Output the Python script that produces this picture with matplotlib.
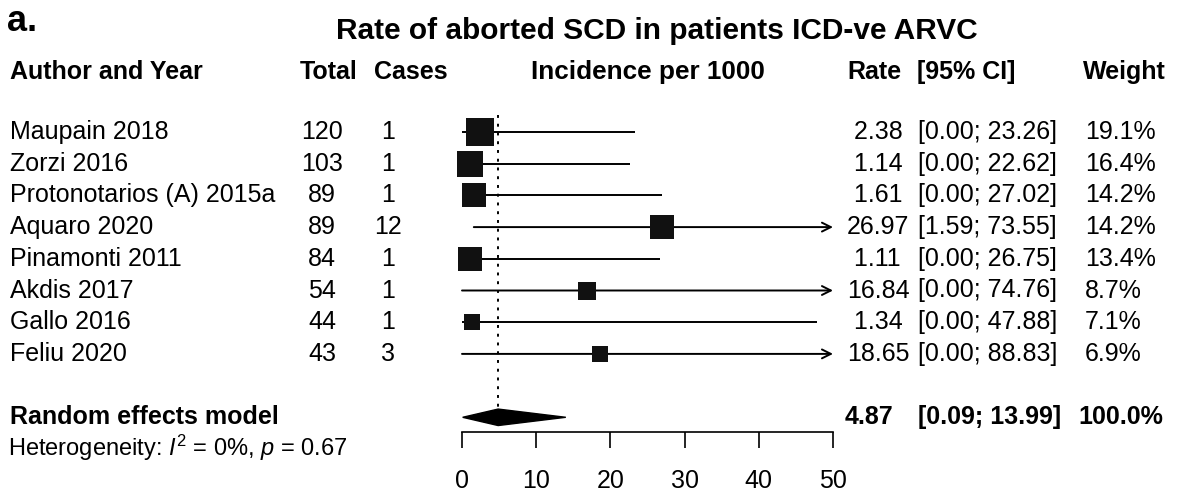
import matplotlib
matplotlib.use("Agg")
import matplotlib.pyplot as plt
import matplotlib.transforms as mtransforms
from matplotlib.patches import Polygon
import numpy as np

plt.rcParams['font.family'] = ['Liberation Sans', 'DejaVu Sans']
plt.rcParams['mathtext.fontset'] = 'custom'
plt.rcParams['mathtext.rm'] = 'Liberation Sans'
plt.rcParams['mathtext.it'] = 'Liberation Sans:italic'

# ---------------- data ----------------
studies = ["Maupain 2018", "Zorzi 2016", "Protonotarios (A) 2015a", "Aquaro 2020",
           "Pinamonti 2011", "Akdis 2017", "Gallo 2016", "Feliu 2020"]
totals = [120, 103, 89, 89, 84, 54, 44, 43]
cases = [1, 1, 1, 12, 1, 1, 1, 3]
rates = [2.38, 1.14, 1.61, 26.97, 1.11, 16.84, 1.34, 18.65]
ci_low = [0.00, 0.00, 0.00, 1.59, 0.00, 0.00, 0.00, 0.00]
ci_high = [23.26, 22.62, 27.02, 73.55, 26.75, 74.76, 47.88, 88.83]
weights = [19.1, 16.4, 14.2, 14.2, 13.4, 8.7, 7.1, 6.9]
pooled_rate = 4.87
pooled_low = 0.09
pooled_high = 13.99
pooled_weight = 100.0
x_ticks = [0, 10, 20, 30, 40, 50]
x_max = 50
title = "Rate of aborted SCD in patients ICD-ve ARVC"
heterogeneity = r"Heterogeneity: $\mathit{I}^2$ = 0%, $\mathit{p}$ = 0.67"

# ---------------- layout ----------------
W, H = 1184, 493
fig = plt.figure(figsize=(W / 100, H / 100), dpi=100)
ax = fig.add_axes([0, 0, 1, 1])
px_per_unit = 371 / 50.0
x0_px = 462
row0_px = 132
row_px = 31.7
ax.set_xlim(-x0_px / px_per_unit, (W - x0_px) / px_per_unit)
ax.set_ylim((H - row0_px) / row_px, -row0_px / row_px)

tr = mtransforms.blended_transform_factory(fig.transFigure, ax.transData)
FS = 18

def fx(px):
    return px / W

# title and panel label
ax.text(fx(7), -3.5, "a.", transform=tr, fontsize=26, fontweight='bold', ha='left', va='center')
ax.text(fx(657), -3.2, title, transform=tr, fontsize=21.5, fontweight='bold', ha='center', va='center')

# headers
hy = -1.9
ax.text(fx(10), hy, "Author and Year", transform=tr, fontsize=FS, fontweight='bold', va='center')
ax.text(fx(300), hy, "Total", transform=tr, fontsize=FS, fontweight='bold', va='center')
ax.text(fx(374), hy, "Cases", transform=tr, fontsize=FS, fontweight='bold', va='center')
ax.text(fx(648), hy, "Incidence per 1000", transform=tr, fontsize=18.8, fontweight='bold', va='center', ha='center')
ax.text(fx(847), hy, "Rate", transform=tr, fontsize=FS, fontweight='bold', va='center')
ax.text(fx(917), hy, "[95% CI]", transform=tr, fontsize=FS, fontweight='bold', va='center')
ax.text(fx(1083), hy, "Weight", transform=tr, fontsize=FS, fontweight='bold', va='center')

rows = np.arange(len(studies))
ref_w = max(weights)
for r, name, tot, cs, rt, lo, hi, w in zip(rows, studies, totals, cases, rates, ci_low, ci_high, weights):
    ax.text(fx(10), r, name, transform=tr, fontsize=FS, va='center')
    ax.text(fx(322), r, f"{tot}", transform=tr, fontsize=FS, va='center', ha='center')
    ax.text(fx(388), r, f"{cs}", transform=tr, fontsize=FS, va='center', ha='center')
    rate_str = f"{rt:.2f}" if rt >= 10 else f" {rt:.2f}"
    ax.text(fx(847), r, rate_str, transform=tr, fontsize=FS, va='center')
    ax.text(fx(918), r, f"[{lo:.2f}; {hi:.2f}]", transform=tr, fontsize=FS, va='center')
    ax.text(fx(1085), r, f"{w:.1f}%", transform=tr, fontsize=FS, va='center')
    # CI line
    if hi > x_max:
        ax.annotate("", xy=(x_max, r), xytext=(lo, r),
                    arrowprops=dict(arrowstyle='->', lw=1.4, color='black',
                                    shrinkA=0, shrinkB=0, mutation_scale=16), zorder=2)
    else:
        ax.plot([lo, hi], [r, r], color='black', lw=1.4, zorder=2, solid_capstyle='butt')
    ms = 20 * np.sqrt(w / ref_w)
    ax.plot([rt], [r], marker='s', ms=ms, color='#111111', mew=0, zorder=3)

# pooled
pr = len(studies) + 1
ax.text(fx(10), pr, "Random effects model", transform=tr, fontsize=FS, fontweight='bold', va='center')
ax.text(fx(845), pr, f"{pooled_rate:.2f}", transform=tr, fontsize=FS, fontweight='bold', va='center')
ax.text(fx(918), pr, f"[{pooled_low:.2f}; {pooled_high:.2f}]", transform=tr, fontsize=FS, fontweight='bold', va='center')
ax.text(fx(1078), pr, f"{pooled_weight:.1f}%", transform=tr, fontsize=FS, fontweight='bold', va='center')
dh = 0.26
diamond = Polygon([(pooled_low, pr), (pooled_rate, pr - dh), (pooled_high, pr), (pooled_rate, pr + dh)],
                  closed=True, facecolor='black', edgecolor='black', lw=1, zorder=3)
ax.add_patch(diamond)
ax.plot([pooled_rate, pooled_rate], [-0.55, pr - dh], color='black', lw=1.4, ls=(0, (1.5, 3)), zorder=1)

ax.text(fx(8), pr + 0.98, heterogeneity, transform=tr, fontsize=17, va='center')

# x axis
for s in ['top', 'left', 'right']:
    ax.spines[s].set_visible(False)
ax.spines['bottom'].set_position(('data', (432 - row0_px) / row_px))
ax.spines['bottom'].set_bounds(0, x_max)
ax.spines['bottom'].set_linewidth(1.2)
ax.set_xticks(x_ticks)
ax.set_xticklabels([str(t) for t in x_ticks])
ax.set_yticks([])
ax.tick_params(axis='x', direction='out', length=11.5, width=1.2, pad=15, labelsize=FS)
ax.patch.set_visible(False)

fig.savefig("out.png", dpi=100)
